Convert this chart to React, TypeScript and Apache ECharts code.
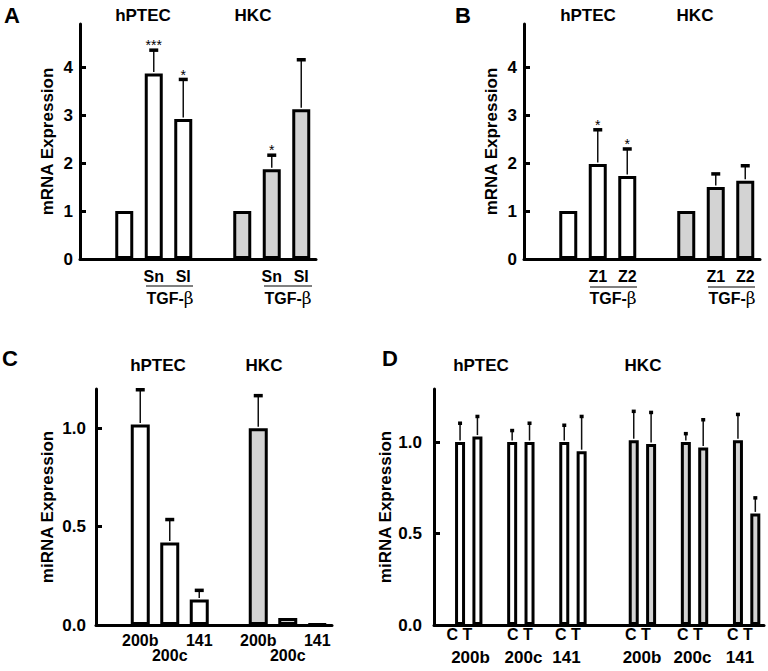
import React, { useEffect, useRef } from "react";
import * as echarts from "echarts";

const NARROW = "'Liberation Sans Narrow', 'Arial Narrow', 'Liberation Sans', Arial, sans-serif";
const SANS = "'Liberation Sans', Arial, sans-serif";
const WHITE = "#ffffff";
const GRAY = "#d3d3d3";

// Panel A: mRNA (Sn / Sl)
const catsA = ["", "hPTEC ctrl", "hPTEC Sn", "hPTEC Sl", "", "HKC ctrl", "HKC Sn", "HKC Sl"];
const tickLabelsA = ["", "", "Sn", "Sl", "", "", "Sn", "Sl"];
const valuesA = [null, 1, 3.87, 2.92, null, 1, 1.87, 3.12];
const errTopA = [null, null, 4.37, 3.76, null, null, 2.18, 4.17];
const sigA = ["", "", "***", "*", "", "", "*", ""];
const cellA = ["", "hPTEC", "hPTEC", "hPTEC", "", "HKC", "HKC", "HKC"];

// Panel B: mRNA (Z1 / Z2)
const catsB = ["", "hPTEC ctrl", "hPTEC Z1", "hPTEC Z2", "", "HKC ctrl", "HKC Z1", "HKC Z2"];
const tickLabelsB = ["", "", "Z1", "Z2", "", "", "Z1", "Z2"];
const valuesB = [null, 1, 1.98, 1.73, null, 1, 1.5, 1.63];
const errTopB = [null, null, 2.71, 2.31, null, null, 1.79, 1.96];
const sigB = ["", "", "*", "*", "", "", "", ""];
const cellB = cellA;

// Panel C: miRNA
const catsC = ["", "hPTEC 200b", "hPTEC 200c", "hPTEC 141", "", "HKC 200b", "HKC 200c", "HKC 141"];
const tickLabelsC = ["", "200b", "\n200c", "141", "", "200b", "\n200c", "141"];
const valuesC = [null, 1.02, 0.42, 0.13, null, 1.0, 0.035, 0.005];
const errTopC = [null, 1.2, 0.54, 0.18, null, 1.17, null, null];
const sigC = ["", "", "", "", "", "", "", ""];
const cellC = cellA;

// Panel D: miRNA control (C) vs TGF-beta (T)
const catsD = [
  "", "hPTEC 200b C", "hPTEC 200b T", "", "hPTEC 200c C", "hPTEC 200c T", "", "hPTEC 141 C", "hPTEC 141 T",
  "", "", "HKC 200b C", "HKC 200b T", "", "HKC 200c C", "HKC 200c T", "", "HKC 141 C", "HKC 141 T",
];
const valuesD = [null, 1.0, 1.03, null, 1.0, 1.0, null, 1.0, 0.95, null, null, 1.01, 0.99, null, 1.0, 0.97, null, 1.01, 0.61];
const errTopD = [null, 1.107, 1.144, null, 1.067, 1.107, null, 1.096, 1.144, null, null, 1.172, 1.166, null, 1.05, 1.126, null, 1.155, 0.699];
const sigD = catsD.map(() => "");
const cellD = catsD.map((c) => (c.startsWith("HKC") ? "HKC" : c.startsWith("hPTEC") ? "hPTEC" : ""));
const groupLabelsD = ["200b", "200c", "141", "200b", "200c", "141"];

const mk = (text: string, x: number, y: number, size: number, family = NARROW, weight = "bold", align = "center") => ({
  type: "text",
  x,
  y,
  style: {
    text,
    fill: "#000",
    fontSize: size,
    fontWeight: weight,
    fontFamily: family,
    textAlign: align,
    textVerticalAlign: "middle",
    align,
    verticalAlign: "middle",
  },
});

const tgf = (x: number, y: number) => ({
  type: "text",
  x,
  y,
  style: {
    text: "{a|TGF-}{b|β}",
    fill: "#000",
    textAlign: "center",
    textVerticalAlign: "middle",
    align: "center",
    verticalAlign: "middle",
    rich: {
      a: { fontSize: 16, fontWeight: "bold", fontFamily: NARROW, fill: "#000", color: "#000" },
      b: { fontSize: 17, fontWeight: "normal", fontFamily: "'DejaVu Serif', 'Liberation Serif', serif", fill: "#000", color: "#000" },
    },
  },
});

const hline = (x1: number, x2: number, y: number) => ({
  type: "line",
  shape: { x1, y1: y, x2, y2: y },
  style: { stroke: "#000", lineWidth: 1.2 },
});

export default function App() {
  const ref = useRef<HTMLDivElement>(null);
  useEffect(() => {
    if (!ref.current) return;
    const chart = echarts.init(ref.current, undefined, { renderer: "svg" });

    const barSeries = (vals: (number | null)[], cells: string[], gi: number, bw: number) => ({
      type: "bar",
      xAxisIndex: gi,
      yAxisIndex: gi,
      barWidth: bw,
      data: vals.map((v, i) =>
        v == null
          ? null
          : { value: v, itemStyle: { color: cells[i] === "HKC" ? GRAY : WHITE, borderColor: "#000", borderWidth: 3 } }
      ),
      z: 2,
    });

    const errSeries = (vals: (number | null)[], tops: (number | null)[], sigs: string[], gi: number, capW: number) => {
      const data: number[][] = [];
      const sg: string[] = [];
      vals.forEach((v, i) => {
        if (v != null && tops[i] != null) {
          data.push([i, v, tops[i] as number]);
          sg.push(sigs[i]);
        }
      });
      return {
        type: "custom",
        xAxisIndex: gi,
        yAxisIndex: gi,
        z: 5,
        data,
        renderItem: (params: any, api: any) => {
          const idx = api.value(0);
          const base = api.coord([idx, api.value(1)]);
          const top = api.coord([idx, api.value(2)]);
          const children: any[] = [
            {
              type: "line",
              shape: { x1: base[0], y1: base[1] - 1.5, x2: top[0], y2: top[1] },
              style: { stroke: "#111", lineWidth: 1.5 },
            },
            {
              type: "rect",
              shape: { x: top[0] - capW / 2, y: top[1] - 1, width: capW, height: 3.5 },
              style: { fill: "#000" },
            },
          ];
          const s = sg[params.dataIndex];
          if (s) {
            children.push({
              type: "text",
              x: top[0],
              y: top[1] - 4,
              style: {
                text: s,
                fill: "#000",
                fontSize: 14,
                fontFamily: SANS,
                textAlign: "center",
                textVerticalAlign: "middle",
                align: "center",
                verticalAlign: "middle",
              },
            });
          }
          return { type: "group", children };
        },
      };
    };

    const xAxis = (gi: number, cats: string[], labels: string[] | null, margin = 10) => ({
      type: "category",
      gridIndex: gi,
      data: cats,
      axisLine: { lineStyle: { color: "#000", width: 3 } },
      axisTick: { show: false },
      axisLabel: labels
        ? {
            interval: 0,
            margin,
            color: "#000",
            fontSize: 16,
            fontWeight: "bold",
            fontFamily: NARROW,
            lineHeight: 15,
            formatter: (_: string, i: number) => labels[i],
          }
        : { show: false },
    });

    const yAxis = (gi: number, max: number, interval: number, vals: number[], name: string, nameGap: number, digits: number, labelMargin: number) => ({
      type: "value",
      gridIndex: gi,
      min: 0,
      max,
      interval,
      name,
      nameLocation: "middle",
      nameGap,
      nameTextStyle: { color: "#000", fontSize: 17, fontWeight: "bold", fontFamily: SANS },
      splitLine: { show: false },
      axisLine: { show: true, lineStyle: { color: "#000", width: 3 } },
      axisTick: { show: true, inside: true, length: 6, lineStyle: { color: "#000", width: 3 }, customValues: vals.filter((v) => v > 0) },
      axisLabel: {
        color: "#000",
        fontSize: 17,
        fontWeight: "bold",
        fontFamily: NARROW,
        margin: labelMargin,
        customValues: vals,
        formatter: (v: number) => v.toFixed(digits),
      },
    });

    const graphic: any[] = [
      mk("A", 12, 15, 22, SANS),
      mk("B", 463, 15, 22, SANS),
      mk("C", 10, 358, 22, SANS),
      mk("D", 390, 358, 22, SANS),
      mk("hPTEC", 143, 15, 17, SANS),
      mk("HKC", 253, 15, 17, SANS),
      mk("hPTEC", 588, 15, 17, SANS),
      mk("HKC", 695, 15, 17, SANS),
      mk("hPTEC", 158, 365, 17, SANS),
      mk("HKC", 264, 365, 17, SANS),
      mk("hPTEC", 481, 365, 17, SANS),
      mk("HKC", 643, 365, 17, SANS),
      hline(146, 193, 286),
      hline(264, 312, 286),
      hline(590, 637, 287),
      hline(708, 755, 287),
      tgf(170, 298),
      tgf(288, 298),
      tgf(613, 298),
      tgf(732, 298),
    ];
    const ctX = [459.5, 520, 568, 638, 690, 740];
    const grpX = [470.5, 523.5, 566.5, 642, 692.5, 740];
    ctX.forEach((x, i) => {
      graphic.push(mk("C T", x, 634, 16));
      graphic.push(mk(groupLabelsD[i], grpX[i], 657, 17));
    });

    chart.setOption({
      animation: false,
      backgroundColor: "#fff",
      grid: [
        { left: 80, top: 24, width: 236, height: 235 },
        { left: 524, top: 24, width: 236, height: 235 },
        { left: 96, top: 389, width: 236, height: 236 },
        { left: 434, top: 389, width: 330, height: 236 },
      ],
      xAxis: [
        xAxis(0, catsA, tickLabelsA, 10),
        xAxis(1, catsB, tickLabelsB, 10),
        xAxis(2, catsC, tickLabelsC, 8),
        xAxis(3, catsD, null),
      ],
      yAxis: [
        yAxis(0, 4.9, 1, [0, 1, 2, 3, 4], "mRNA Expression", 24, 0, 7),
        yAxis(1, 4.9, 1, [0, 1, 2, 3, 4], "mRNA Expression", 24, 0, 7),
        yAxis(2, 1.2, 0.5, [0, 0.5, 1], "miRNA Expression", 40, 1, 10),
        yAxis(3, 1.29, 0.5, [0, 0.5, 1], "miRNA Expression", 34, 1, 12),
      ],
      series: [
        barSeries(valuesA, cellA, 0, 18),
        errSeries(valuesA, errTopA, sigA, 0, 9),
        barSeries(valuesB, cellB, 1, 18),
        errSeries(valuesB, errTopB, sigB, 1, 9),
        barSeries(valuesC, cellC, 2, 19),
        errSeries(valuesC, errTopC, sigC, 2, 9),
        barSeries(valuesD, cellD, 3, 10),
        errSeries(valuesD, errTopD, sigD, 3, 4),
      ],
      graphic,
    });
    return () => chart.dispose();
  }, []);
  return <div ref={ref} style={{ position: "fixed", left: 0, top: 0, width: 768, height: 671, background: "#fff" }} />;
}
